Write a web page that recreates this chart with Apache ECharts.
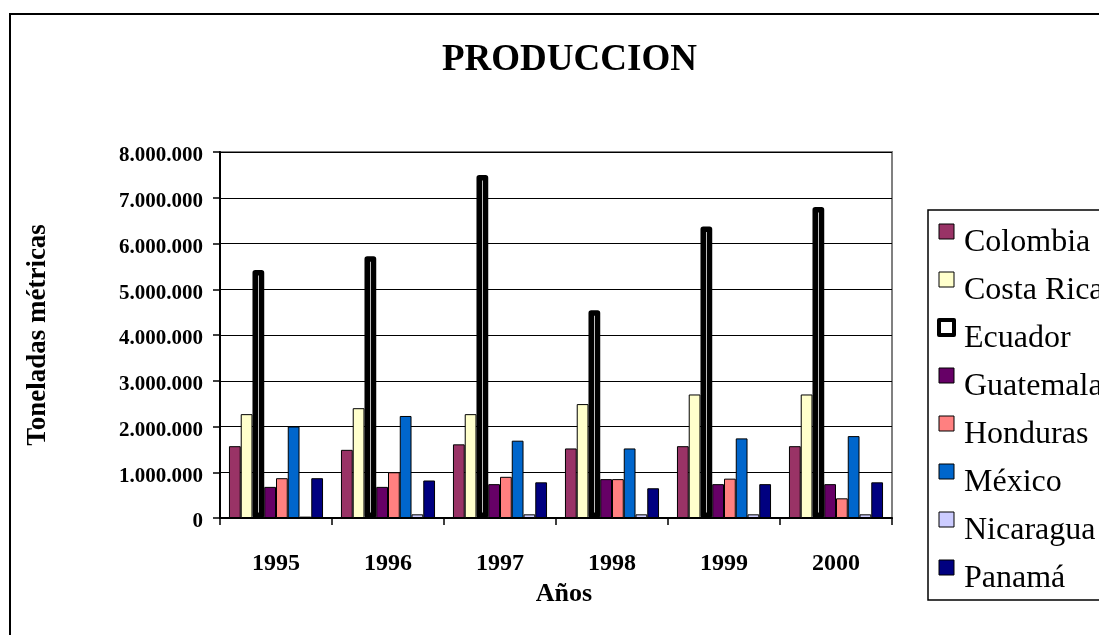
<!DOCTYPE html>
<html>
<head>
<meta charset="utf-8">
<script src="https://cdn.jsdelivr.net/npm/echarts@6/dist/echarts.min.js"></script>
<style>
html,body{margin:0;padding:0;background:#fff;}
#chart{width:1099px;height:635px;}
</style>
</head>
<body>
<div id="chart"></div>
<script>
const years = ['1995', '1996', '1997', '1998', '1999', '2000'];
const countries = ['Colombia', 'Costa Rica', 'Ecuador', 'Guatemala', 'Honduras', 'México', 'Nicaragua', 'Panamá'];
const colombia  = [1570000, 1490000, 1610000, 1520000, 1570000, 1570000];
const costaRica = [2270000, 2400000, 2270000, 2490000, 2700000, 2700000];
const ecuador   = [5420000, 5720000, 7500000, 4540000, 6370000, 6800000];
const guatemala = [680000, 680000, 740000, 850000, 740000, 740000];
const honduras  = [870000, 1000000, 900000, 850000, 860000, 430000];
const mexico    = [2000000, 2230000, 1690000, 1520000, 1740000, 1790000];
const nicaragua = [30000, 80000, 80000, 80000, 80000, 80000];
const panama    = [870000, 820000, 780000, 650000, 740000, 780000];
const yTicks = [0, 1000000, 2000000, 3000000, 4000000, 5000000, 6000000, 7000000, 8000000];

const seriesData = [colombia, costaRica, ecuador, guatemala, honduras, mexico, nicaragua, panama];
const fills = ['#993366', '#FFFFCC', '#FFFFFF', '#660066', '#FF8080', '#0066CC', '#CCCCFF', '#000080'];
const serif = "'Liberation Serif', 'Times New Roman', serif";

function fmt(v) {
  return String(v).replace(/\B(?=(\d{3})+(?!\d))/g, '.');
}

const chart = echarts.init(document.getElementById('chart'), null, {renderer: 'canvas'});
const series = countries.map((name, i) => ({
  name: name,
  type: 'bar',
  data: seriesData[i],
  barGap: '0%',
  barCategoryGap: '16%',
  itemStyle: i === 2
    ? {color: fills[i], borderColor: '#000', borderWidth: 5.5, borderJoin: 'round'}
    : {color: fills[i], borderColor: '#000', borderWidth: 1},
  emphasis: {disabled: true},
  animation: false
}));

chart.setOption({
  animation: false,
  backgroundColor: '#fff',
  title: {
    text: 'PRODUCCION',
    left: 442,
    top: 42,
    padding: 0,
    textStyle: {fontFamily: serif, fontWeight: 'bold', fontSize: 37, color: '#000'}
  },
  graphic: [{
    type: 'rect',
    shape: {x: 10, y: 14, width: 1200, height: 700},
    style: {fill: 'none', stroke: '#000', lineWidth: 2},
    silent: true,
    z: 100
  }],
  legend: {
    orient: 'vertical',
    left: 928,
    top: 210,
    padding: [0, 300, 5, 9],
    itemGap: -1,
    itemWidth: 15,
    itemHeight: 15,
    icon: 'rect',
    borderColor: '#000',
    borderWidth: 1.5,
    data: countries.map((n, i) => i === 2
      ? {name: n, itemStyle: {borderColor: '#000', borderWidth: 4}}
      : {name: n}),
    formatter: name => '{n|' + name + '}',
    textStyle: {
      fontFamily: serif, fontSize: 32, color: '#000',
      rich: {
        n: {fontFamily: serif, fontSize: 32, color: '#000', height: 20, lineHeight: 20, padding: [23, 0, 0, 5]}
      }
    },
    itemStyle: {borderColor: '#000', borderWidth: 1}
  },
  grid: {
    left: 220, top: 152, right: 207, bottom: 117,
    show: true, borderColor: '#808080', borderWidth: 2, backgroundColor: 'transparent'
  },
  xAxis: {
    type: 'category',
    data: years,
    name: '{a|Años}',
    nameLocation: 'middle',
    nameGap: 56,
    nameTextStyle: {
      fontFamily: serif, fontWeight: 'bold', fontSize: 26, color: '#000',
      rich: {a: {fontFamily: serif, fontWeight: 'bold', fontSize: 26, color: '#000', padding: [0, 0, 0, 16]}}
    },
    axisLine: {lineStyle: {color: '#000', width: 2}},
    axisTick: {show: true, length: 7, lineStyle: {color: '#000', width: 1.5}},
    axisLabel: {fontFamily: serif, fontWeight: 'bold', fontSize: 24, color: '#000', margin: 34}
  },
  yAxis: {
    type: 'value',
    min: yTicks[0],
    max: yTicks[yTicks.length - 1],
    interval: yTicks[1] - yTicks[0],
    name: 'Toneladas métricas',
    nameLocation: 'middle',
    nameGap: 168,
    nameRotate: 90,
    nameTextStyle: {fontFamily: serif, fontWeight: 'bold', fontSize: 27, color: '#000'},
    axisLine: {show: true, lineStyle: {color: '#000', width: 2}},
    axisTick: {show: true, length: 7, lineStyle: {color: '#000', width: 1.5}},
    splitLine: {show: true, lineStyle: {color: '#000', width: 1}},
    axisLabel: {
      fontFamily: serif, fontWeight: 'bold', fontSize: 21, color: '#000', margin: 17,
      formatter: v => '{v|' + fmt(v) + '}',
      rich: {
        v: {fontFamily: serif, fontWeight: 'bold', fontSize: 21, color: '#000', lineHeight: 21, padding: [8, 0, 0, 0]}
      }
    }
  },
  series: series
});
</script>
</body>
</html>
